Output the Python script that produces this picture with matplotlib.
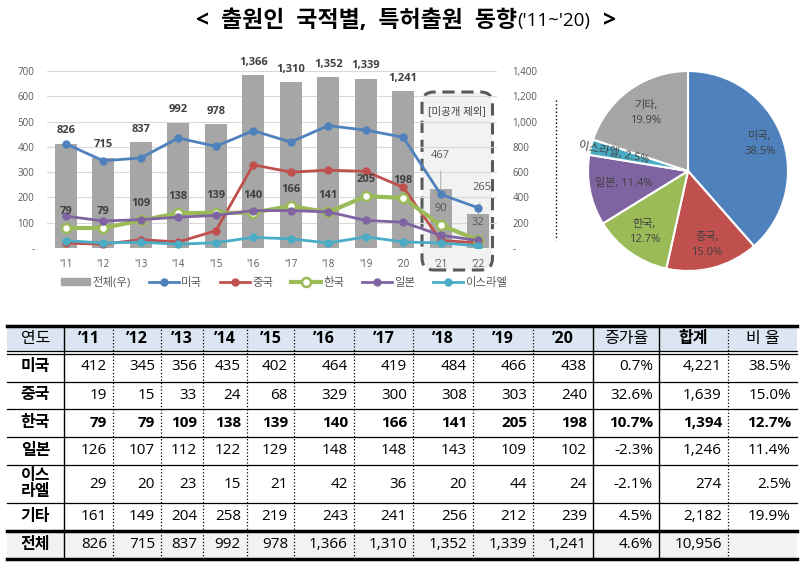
import matplotlib
matplotlib.use("Agg")
import matplotlib.pyplot as plt
from matplotlib.patches import FancyBboxPatch, Rectangle, Patch
from matplotlib.lines import Line2D
import numpy as np

plt.rcParams['font.family'] = ['Open Sans', 'Noto Sans CJK KR', 'DejaVu Sans']

W, H = 804, 568

# ---- data ----
years = ["'11", "'12", "'13", "'14", "'15", "'16", "'17", "'18", "'19", "'20", "'21", "'22"]
total = [826, 715, 837, 992, 978, 1366, 1310, 1352, 1339, 1241, 467, 265]
usa = [412, 345, 356, 435, 402, 464, 419, 484, 466, 438, 212, 159]
china = [19, 15, 33, 24, 68, 329, 300, 308, 303, 240, 30, 20]
korea = [79, 79, 109, 138, 139, 140, 166, 141, 205, 198, 90, 32]
japan = [126, 107, 112, 122, 129, 148, 148, 143, 109, 102, 50, 30]
israel = [29, 20, 23, 15, 21, 42, 36, 20, 44, 24, 20, 9]
others = [161, 149, 204, 258, 219, 243, 241, 256, 212, 239]

countries = ["미국", "중국", "한국", "일본", "이스\n라엘", "기타", "전체"]
growth = ["0.7%", "32.6%", "10.7%", "-2.3%", "-2.1%", "4.5%", "4.6%"]
sums = [4221, 1639, 1394, 1246, 274, 2182, 10956]
ratio = ["38.5%", "15.0%", "12.7%", "11.4%", "2.5%", "19.9%", ""]
table_years = ["’11", "’12", "’13", "’14", "’15", "’16", "’17", "’18", "’19", "’20"]

pie_labels = ["미국,\n38.5%", "중국,\n15.0%", "한국,\n12.7%", "일본, 11.4%", "이스라엘, 2.5%", "기타,\n19.9%"]

c_usa, c_china, c_korea = '#4F81BD', '#C0504D', '#9BBB59'
c_japan, c_israel, c_other = '#8064A2', '#4BACC6', '#A5A5A5'
txt = '#404040'


def px_rect(l, t, r, b):
    return [l / W, 1 - b / H, (r - l) / W, (b - t) / H]


fig = plt.figure(figsize=(W / 100, H / 100), dpi=100)

# ---- title ----
parts = [("<  출원인  국적별,  특허출원  동향", 16.5, 'bold'), ("('11~'20)", 13.5, 'normal'), ("  >", 16.5, 'bold')]
fig.canvas.draw()
rend = fig.canvas.get_renderer()
objs = []
for s, fs, wt in parts:
    objs.append(fig.text(0, 1 - 21 / H, s, fontsize=fs, weight=wt, ha='left', va='center', color='black'))
widths = [o.get_window_extent(rend).width for o in objs]
x0 = 406 - sum(widths) / 2
for o, w in zip(objs, widths):
    o.set_x(x0 / W)
    x0 += w

# ---- combo chart ----
x = np.arange(len(years))
ax = fig.add_axes(px_rect(47, 71, 497, 248))
bars = ax.bar(x, total, width=0.58, color='#A6A6A6', zorder=2)
ax.set_xlim(-0.5, 11.5)
ax.set_ylim(0, 1400)
ax.set_axisbelow(True)
ax.yaxis.grid(True, color='#D9D9D9', lw=0.8)
for s in ax.spines.values():
    s.set_visible(False)

box = FancyBboxPatch((4.22, 2.98), 0.705, 1.78, boxstyle="round,pad=0,rounding_size=0.12",
                     transform=fig.dpi_scale_trans, fc='#F2F2F2', ec='#595959', lw=2.2,
                     ls=(0, (4, 2.2)), zorder=0.3, clip_on=False)
ax.add_patch(box)

ax2 = ax.twinx()
ax2.set_ylim(0, 700)
for s in ax2.spines.values():
    s.set_visible(False)
ax.yaxis.tick_right()
ax2.yaxis.tick_left()

ax.set_yticks(range(0, 1401, 200), ['-'] + [f"{v:,}" for v in range(200, 1401, 200)])
ax2.set_yticks(range(0, 701, 100), ['-'] + [str(v) for v in range(100, 701, 100)])
ax.tick_params(axis='y', length=0, labelsize=7, labelcolor='#595959', pad=11)
ax2.tick_params(axis='y', length=0, labelsize=7, labelcolor='#595959', pad=9)
ax.set_xticks(x, years)
ax.tick_params(axis='x', length=0, labelsize=7, labelcolor='#595959', pad=8)

l_usa, = ax2.plot(x, usa, color=c_usa, lw=2, marker='o', ms=5, label='미국')
l_china, = ax2.plot(x, china, color=c_china, lw=2, marker='o', ms=5, label='중국')
l_korea, = ax2.plot(x, korea, color=c_korea, lw=3, marker='o', ms=6.5, mfc='white',
                    mec=c_korea, mew=1.8, label='한국')
l_japan, = ax2.plot(x, japan, color=c_japan, lw=2, marker='o', ms=5, label='일본')
l_israel, = ax2.plot(x, israel, color=c_israel, lw=2, marker='o', ms=5, label='이스라엘')

for i, v in enumerate(total):
    if i < 10:
        ax.annotate(f"{v:,}", (x[i], v), xytext=(0, 13), textcoords='offset pixels',
                    ha='center', va='center', fontsize=8, weight='bold', color=txt,
                    annotation_clip=False)
    else:
        off = (0, 33) if i == 10 else (4, 27)
        ax.annotate(f"{v:,}", (x[i], v), xytext=off, textcoords='offset pixels',
                    ha='center', va='center', fontsize=8, color='#595959',
                    arrowprops=dict(arrowstyle='-', color='#A0A0A0', lw=0.6,
                                    shrinkA=5, shrinkB=0),
                    annotation_clip=False)

for i, v in enumerate(korea):
    bold = 'bold' if i < 10 else 'normal'
    ax2.annotate(str(v), (x[i], v), xytext=(0, 17), textcoords='offset pixels',
                 ha='center', va='center', fontsize=8, weight=bold,
                 color=txt if i < 10 else '#595959', zorder=6)

fig.text(457 / W, 1 - 112 / H, "[미공개 제외]", fontsize=7.5, color=txt, ha='center', va='center')

handles = [Patch(color='#A6A6A6'), l_usa, l_china, l_korea, l_japan, l_israel]
labels = ['전체(우)', '미국', '중국', '한국', '일본', '이스라엘']
leg = fig.legend(handles, labels, loc='center', bbox_to_anchor=(284 / W, 1 - 283 / H), ncol=6,
                 frameon=False, fontsize=8.2, handlelength=2.6, handleheight=0.5,
                 columnspacing=1.6, handletextpad=0.2, labelcolor='#595959')

fig.add_artist(Line2D([556 / W, 556 / W], [1 - 100 / H, 1 - 240 / H], ls=':', color='black', lw=1))

# ---- pie ----
axp = fig.add_axes(px_rect(586, 69, 790, 273))
wedges, _ = axp.pie(sums[:6], colors=[c_usa, c_china, c_korea, c_japan, c_israel, c_other],
                    startangle=90, counterclock=False,
                    wedgeprops=dict(edgecolor='white', linewidth=1.5))
axp.set_xlim(-1.02, 1.02)
axp.set_ylim(-1.02, 1.02)
axp.set_aspect('equal')
axp.axis('off')
label_r = [0.77, 0.76, 0.75, 0.66, 0.76, 0.72]
for w, lab, r in zip(wedges, pie_labels, label_r):
    ang = np.deg2rad((w.theta1 + w.theta2) / 2)
    rot = -12 if lab.startswith('이스') else 0
    axp.text(r * np.cos(ang), r * np.sin(ang), lab, ha='center', va='center',
             fontsize=8, color=txt, rotation=rot, linespacing=1.5)

# ---- table ----
axt = fig.add_axes(px_rect(0, 300, W, H))
axt.set_xlim(0, W)
axt.set_ylim(H, 300)
axt.axis('off')
axt.patch.set_visible(False)

xs = [7, 64, 113, 161, 203, 247, 294, 354, 413, 473, 533, 593, 659, 728, 797]
ys = [326, 352, 382, 409, 437, 465, 503, 531, 559]

axt.add_patch(Rectangle((xs[0], ys[0]), xs[-1] - xs[0], ys[1] - ys[0], fc='#DCE6F2', ec='none'))
axt.add_patch(Rectangle((xs[0], ys[7]), xs[-1] - xs[0], ys[8] - ys[7], fc='#F2F2F2', ec='none'))

headers = ["연도"] + table_years + ["증가율", "합계", "비 율"]
for j, h in enumerate(headers):
    cx = (xs[j] + xs[j + 1]) / 2
    wt = 'bold' if h.startswith('’') or h == '합계' else 'normal'
    axt.text(cx, (ys[0] + ys[1]) / 2, h, ha='center', va='center', fontsize=11.5,
             weight=wt, color='black')

series = [usa, china, korea, japan, israel, others, total]
for r, name in enumerate(countries):
    yc = (ys[r + 1] + ys[r + 2]) / 2
    wt = 'bold' if r == 2 else 'normal'
    axt.text((xs[0] + xs[1]) / 2, yc, name, ha='center', va='center', fontsize=11.5,
             weight='bold', color='black', linespacing=0.95)
    cells = [f"{v:,}" for v in series[r][:10]] + [growth[r], f"{sums[r]:,}", ratio[r]]
    for j, c in enumerate(cells):
        axt.text(xs[j + 2] - 6, yc, c, ha='right', va='center', fontsize=11,
                 weight=wt, color='black')

for xv in xs[1:-1]:
    ls = '-' if xv in (64, 593, 659) else ':'
    axt.plot([xv, xv], [ys[0], ys[-1]], color='black', lw=1 if ls == '-' else 0.9, ls=ls)

axt.plot([xs[0], xs[-1]], [ys[0], ys[0]], color='black', lw=2.5)
axt.plot([xs[0], xs[-1]], [350.5, 350.5], color='black', lw=0.9)
axt.plot([xs[0], xs[-1]], [353.5, 353.5], color='black', lw=0.9)
for yv in ys[2:7]:
    axt.plot([xs[0], xs[-1]], [yv, yv], color='black', lw=0.9)
axt.plot([xs[0], xs[-1]], [ys[7], ys[7]], color='black', lw=2.5)
axt.plot([xs[0], xs[-1]], [ys[8], ys[8]], color='black', lw=2.5)

fig.savefig('out.png', dpi=100)
